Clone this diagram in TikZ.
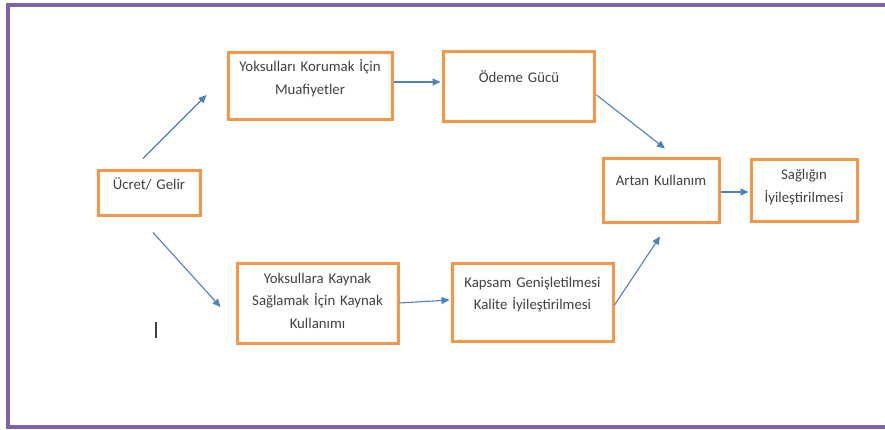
\documentclass[tikz,border=0pt]{standalone}
\usepackage{fontspec}
\setmainfont{Carlito}
\usetikzlibrary{arrows.meta,calc}
\definecolor{frameP}{HTML}{7F63A8}
\definecolor{boxO}{HTML}{F79646}
\definecolor{arrB}{HTML}{4F81BD}
\definecolor{txtG}{HTML}{404040}
\begin{document}
\begin{tikzpicture}[x=1pt,y=-1pt,
  boxnode/.style={draw=boxO,line width=3pt,inner sep=0pt,fill=none},
  lbl/.style={text=txtG,inner sep=0pt,anchor=base,text width=175pt,align=center,
    font=\fontsize{14.8}{22.8}\selectfont},
  conn/.style={draw=arrB,line width=1.1pt,-{Triangle[length=8pt,width=7pt]}}]
\useasboundingbox (0,0) rectangle (885,430);
\fill[white] (0,0) rectangle (885,430);
% frame
\draw[frameP,line width=3.5pt] (895,5) -- (8,5) -- (8,427) -- (895,427);
% boxes
\node[boxnode,minimum width=102pt,minimum height=45pt] (ucret) at (149,193.5) {};
\node[boxnode,minimum width=164pt,minimum height=67pt] (koruma) at (310,86.5) {};
\node[boxnode,minimum width=151pt,minimum height=70pt] (odeme) at (518.5,87) {};
\node[boxnode,minimum width=116pt,minimum height=64pt] (artan) at (661,191) {};
\node[boxnode,minimum width=106pt,minimum height=62pt] (saglik) at (804,191) {};
\node[boxnode,minimum width=161pt,minimum height=80pt] (kaynak) at (317.5,303) {};
\node[boxnode,minimum width=161pt,minimum height=78pt] (kapsam) at (532.5,302) {};
% labels
\node[lbl] (tucret) at (149,190) {Ücret/ Gelir};
\node[lbl] (tkoruma) at (310,72) {Yoksulları Korumak İçin\\Muafiyetler};
\node[lbl] (todeme) at (519,83) {Ödeme Gücü};
\node[lbl] (tartan) at (661,186) {Artan Kullanım};
\node[lbl] (tsaglik) at (804,180) {Sağlığın\\İyileştirilmesi};
\node[lbl] (tkaynak) at (317.5,283) {Yoksullara Kaynak\\Sağlamak İçin Kaynak\\Kullanımı};
\node[lbl] (tkapsam) at (532.5,287) {Kapsam Genişletilmesi\\Kalite İyileştirilmesi};
% connector ends
\coordinate (a1s) at ($(ucret.north)+(-6,-11)$);
\coordinate (a1e) at ($(koruma.west)+(-20,8.5)$);
\coordinate (a2s) at ($(ucret.south)+(4,15)$);
\coordinate (a2e) at ($(kaynak.west)+(-15,4)$);
\coordinate (a3s) at ($(koruma.east)+(0,-4.5)$);
\coordinate (a3e) at ($(odeme.west)+(-1,-5)$);
\coordinate (a4s) at ($(odeme.east)+(1,8)$);
\coordinate (a4e) at ($(artan.north)+(4,-9)$);
\coordinate (a5s) at ($(kaynak.east)+(0,0)$);
\coordinate (a5e) at ($(kapsam.west)+(-1,-2)$);
\coordinate (a6s) at ($(kapsam.east)+(0,3)$);
\coordinate (a6e) at ($(artan.south)+(-1,12)$);
\coordinate (a7s) at ($(artan.east)+(0,1)$);
\coordinate (a7e) at ($(saglik.west)+(-1,1)$);
\draw[conn] (a1s) -- (a1e);
\draw[conn] (a2s) -- (a2e);
\draw[conn] (a3s) -- (a3e);
\draw[conn] (a4s) -- (a4e);
\draw[conn] (a5s) -- (a5e);
\draw[conn] (a6s) -- (a6e);
\draw[conn] (a7s) -- (a7e);
% text cursor mark
\coordinate (cur1) at (156,322);
\coordinate (cur2) at (156,338);
\draw[txtG,line width=1.2pt] (cur1) -- (cur2);
\end{tikzpicture}
\end{document}
